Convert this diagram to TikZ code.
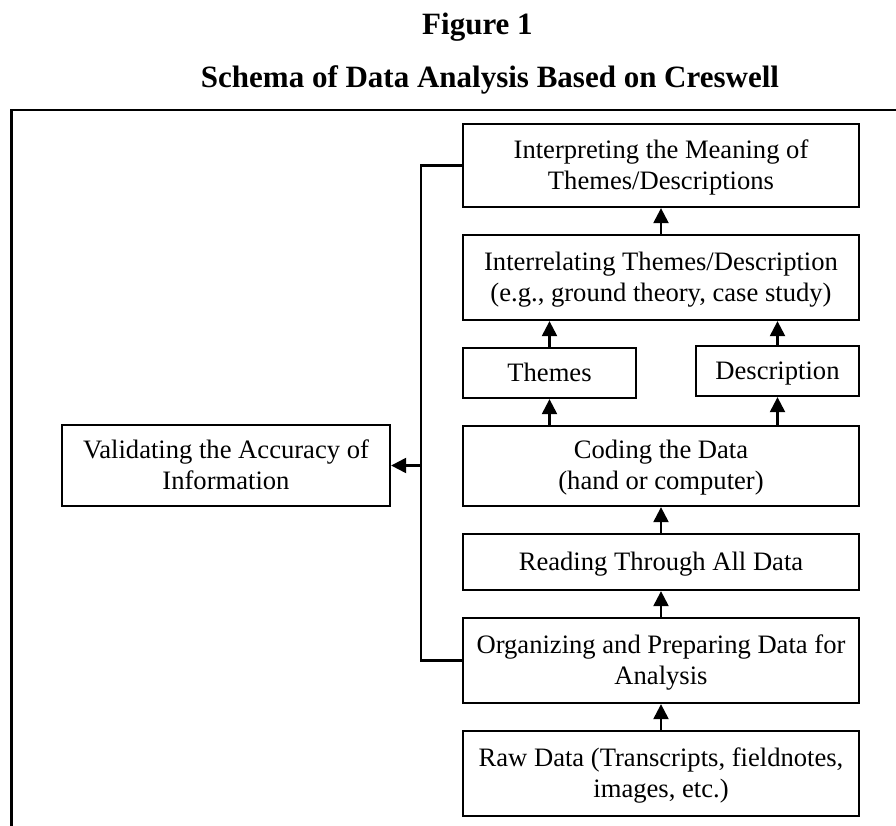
\documentclass[tikz,border=0pt]{standalone}
\usepackage{fontspec}
\setmainfont{Liberation Serif}
\usetikzlibrary{arrows.meta}
\newcommand\mystrut{\rule[-5pt]{0pt}{27pt}}
\tikzset{
  stepbox/.style={draw, line width=2.3pt, inner sep=0pt, align=center,
    font=\fontsize{26.6}{31}\selectfont},
  arr/.style={line width=2.3pt, -{Triangle[length=15pt,width=15pt]}},
  link/.style={line width=2.3pt},
  frame/.style={line width=2.6pt},
  ttl/.style={font=\fontsize{31}{36}\selectfont\bfseries, inner sep=0pt}
}
\begin{document}
\begin{tikzpicture}[x=1pt,y=-1pt]
\useasboundingbox (0,0) rectangle (896,826);
\fill[white] (0,0) rectangle (896,826);
% titles
\node[ttl, anchor=base west] (t1) at (422,35) {Figure 1};
\node[ttl, anchor=base] (t2) at (490,88) {Schema of Data Analysis Based on Creswell};
% frame
\draw[frame] (905,110) -- (11.5,110) -- (11.5,835);
% boxes
\node[stepbox, minimum width=396pt, minimum height=83pt] (interp) at (661,165.5) {\mystrut Interpreting the Meaning of\\\mystrut Themes/Descriptions};
\node[stepbox, minimum width=396pt, minimum height=85pt] (interrel) at (661,277.5) {\mystrut Interrelating Themes/Description\\\mystrut (e.g., ground theory, case study)};
\node[stepbox, minimum width=173pt, minimum height=50pt] (themes) at (549.5,373) {\mystrut Themes};
\node[stepbox, minimum width=163pt, minimum height=50pt] (desc) at (777.5,371) {\mystrut Description};
\node[stepbox, minimum width=396pt, minimum height=80pt] (coding) at (661,466) {\mystrut Coding the Data\\\mystrut (hand or computer)};
\node[stepbox, minimum width=396pt, minimum height=56pt] (reading) at (661,562) {\mystrut Reading Through All Data};
\node[stepbox, minimum width=396pt, minimum height=85pt] (org) at (661,660.5) {\mystrut Organizing and Preparing Data for\\\mystrut Analysis};
\node[stepbox, minimum width=396pt, minimum height=85pt] (raw) at (661,773.5) {\mystrut Raw Data (Transcripts, fieldnotes,\\\mystrut images, etc.)};
\node[stepbox, minimum width=328pt, minimum height=81pt] (valid) at (226,465.5) {\mystrut Validating the Accuracy of\\\mystrut Information};
% arrows
\draw[arr] (raw) -- (org);
\draw[arr] (org) -- (reading);
\draw[arr] (reading) -- (coding);
\draw[arr] (themes.south |- coding.north) -- (themes.south);
\draw[arr] (desc.south |- coding.north) -- (desc.south);
\draw[arr] (themes.north) -- (themes.north |- interrel.south);
\draw[arr] (desc.north) -- (desc.north |- interrel.south);
\draw[arr] (interrel) -- (interp);
% bracket
\coordinate (bx) at (421,465.5);
\draw[link] (interp.west) -| (bx) |- (org.west);
\draw[arr] (bx) -- (valid.east);
\end{tikzpicture}
\end{document}
